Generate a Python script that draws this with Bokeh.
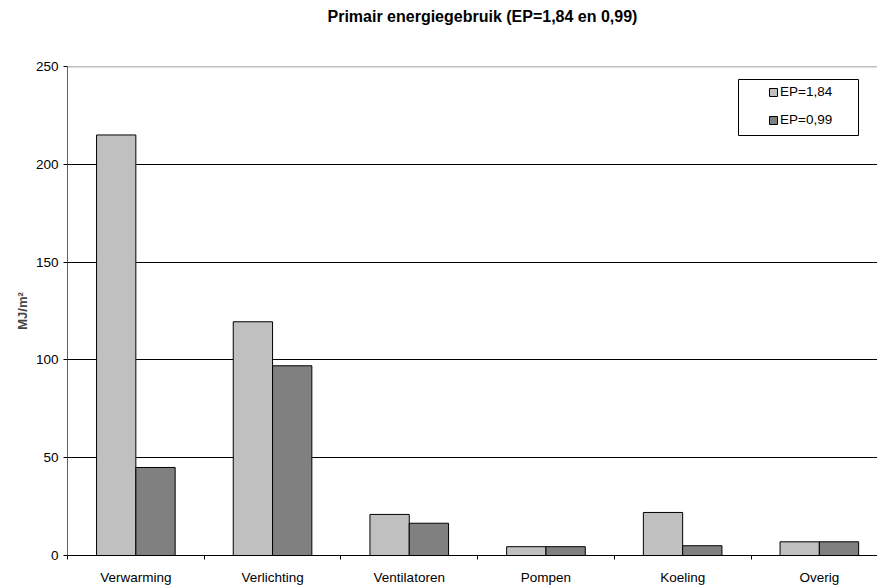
import numpy as np
from bokeh.plotting import figure
from bokeh.models import (Range1d, FixedTicker, ColumnDataSource, Legend, LegendItem,
                          BoxAnnotation, Span, Title)
from bokeh.transform import dodge
from bokeh.embed import file_html
from bokeh.resources import INLINE

# ---- data ----
categories = ["Verwarming", "Verlichting", "Ventilatoren", "Pompen", "Koeling", "Overig"]
ep_184 = [215, 119.5, 21, 4.5, 22, 7]
ep_099 = [45, 97, 16.5, 4.5, 5, 7]
series_labels = ["EP=1,84", "EP=0,99"]
y_ticks = [0, 50, 100, 150, 200, 250]
title_text = "Primair energiegebruik (EP=1,84 en 0,99)"
y_label = "MJ/m\u00b2"

FONT = "Liberation Sans"
LIGHT = "#C0C0C0"
DARK = "#808080"

pos = np.arange(len(categories)) + 0.5
src = ColumnDataSource(dict(pos=pos, cat=categories, a=ep_184, b=ep_099))

cat_px = 136.7
frame_w = 877 - 67
p = figure(width=877, height=587, output_backend="svg", toolbar_location=None,
           title_location=None,
           x_range=Range1d(0, frame_w / cat_px), y_range=Range1d(y_ticks[0], y_ticks[-1]),
           min_border_left=67, min_border_right=0, min_border_top=66, min_border_bottom=29,
           background_fill_color="white", border_fill_color="white")
p.outline_line_color = None

# spacer between frame and title, then the title itself
p.add_layout(Title(text=" ", text_font_size="2px", standoff=38), "above")
p.add_layout(Title(text=title_text, text_font=FONT, text_font_size="16px",
                   text_font_style="bold", text_color="black", align="left",
                   offset=260, standoff=0), "above")

bw = 0.2875
r1 = p.vbar(x=dodge("pos", -bw / 2), top="a", width=bw, source=src,
            fill_color=LIGHT, line_color="black", line_width=1)
r2 = p.vbar(x=dodge("pos", bw / 2), top="b", width=bw, source=src,
            fill_color=DARK, line_color="black", line_width=1)

# x axis
xa = p.xaxis[0]
xa.ticker = FixedTicker(ticks=list(pos), minor_ticks=list(range(len(categories) + 1)))
xa.major_label_overrides = {float(x): c for x, c in zip(pos, categories)}
xa.major_tick_out = 0
xa.major_tick_in = 0
xa.minor_tick_out = 4
xa.minor_tick_in = 0
xa.minor_tick_line_color = "black"
xa.axis_line_color = "black"
xa.major_label_standoff = 10
xa.major_label_text_font = FONT
xa.major_label_text_font_size = "13.5px"
xa.major_label_text_color = "black"

# y axis
ya = p.yaxis[0]
ya.ticker = FixedTicker(ticks=y_ticks)
ya.major_tick_out = 4
ya.major_tick_in = 0
ya.minor_tick_out = 0
ya.minor_tick_in = 0
ya.major_tick_line_color = "black"
ya.axis_line_color = "#606060"
ya.major_label_standoff = 5
ya.major_label_text_font = FONT
ya.major_label_text_font_size = "13.5px"
ya.major_label_text_color = "black"
ya.axis_label = y_label
ya.axis_label_text_font = FONT
ya.axis_label_text_font_size = "13px"
ya.axis_label_text_font_style = "bold"
ya.axis_label_standoff = 3

p.xgrid.visible = False
p.ygrid.ticker = FixedTicker(ticks=y_ticks[1:-1])
p.ygrid.grid_line_color = "black"
p.ygrid.grid_line_width = 1
p.ygrid.grid_line_alpha = 1

p.add_layout(Span(location=y_ticks[-1], dimension="width", line_color="#808080", line_width=1.5))

# legend
legend = Legend(items=[LegendItem(label=series_labels[0], renderers=[r1]),
                       LegendItem(label=series_labels[1], renderers=[r2])],
                location=(694, 421), border_line_alpha=0, background_fill_alpha=0,
                glyph_width=10, glyph_height=10, label_height=14, spacing=13,
                padding=7, margin=0, label_standoff=2,
                label_text_font=FONT, label_text_font_size="13.5px", label_text_color="black")
p.add_layout(legend)
p.add_layout(BoxAnnotation(left=671, right=791, top=476, bottom=420,
                           left_units="screen", right_units="screen",
                           top_units="screen", bottom_units="screen",
                           fill_alpha=0, line_color="black", line_width=1, line_alpha=1))

open("out.html", "w").write(file_html(p, INLINE))
